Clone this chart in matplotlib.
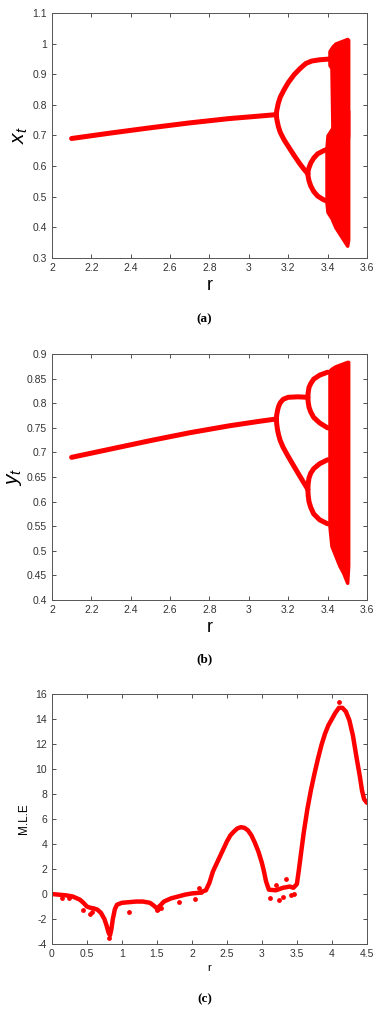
import matplotlib
matplotlib.use('Agg')
import matplotlib.pyplot as plt
import numpy as np
from matplotlib.ticker import FormatStrFormatter

plt.rcParams['font.family'] = ['Liberation Sans', 'DejaVu Sans']
plt.rcParams['mathtext.fontset'] = 'custom'
plt.rcParams['mathtext.it'] = 'Liberation Sans:italic'
plt.rcParams['mathtext.rm'] = 'Liberation Sans'

RED = '#ff0000'

# ---- panel (a): x_t bifurcation ----
a_main_r = [2.10, 2.30, 2.50, 2.70, 2.90, 3.05, 3.14]
a_main_x = [0.690, 0.708, 0.725, 0.741, 0.755, 0.763, 0.768]
a_up2_r = [3.14, 3.142, 3.145, 3.15, 3.16, 3.18, 3.20, 3.23, 3.26, 3.29, 3.32, 3.36, 3.42]
a_up2_x = [0.768, 0.780, 0.790, 0.805, 0.825, 0.850, 0.872, 0.898, 0.918, 0.935, 0.943, 0.947, 0.950]
a_lo2_r = [3.14, 3.142, 3.145, 3.15, 3.16, 3.18, 3.20, 3.23, 3.26, 3.28, 3.30]
a_lo2_x = [0.768, 0.755, 0.745, 0.730, 0.710, 0.685, 0.665, 0.635, 0.607, 0.590, 0.575]
a_p4_r = [3.30, 3.302, 3.306, 3.315, 3.33, 3.35, 3.38, 3.40]
a_up4_x = [0.575, 0.585, 0.595, 0.610, 0.626, 0.640, 0.650, 0.655]
a_lo4_x = [0.575, 0.565, 0.552, 0.535, 0.517, 0.502, 0.490, 0.485]
# chaotic band envelopes
a_ch_up_r = [3.41, 3.42, 3.425, 3.44, 3.46, 3.48, 3.50, 3.505]
a_ch_up_hi = [0.975, 0.985, 0.990, 1.000, 1.005, 1.010, 1.015, 1.012]
a_ch_up_lo = [0.930, 0.920, 0.720, 0.700, 0.690, 0.680, 0.670, 0.700]
a_ch_lo_r = [3.395, 3.40, 3.42, 3.44, 3.46, 3.48, 3.50, 3.505]
a_ch_lo_hi = [0.660, 0.700, 0.720, 0.740, 0.750, 0.760, 0.780, 0.780]
a_ch_lo_lo = [0.480, 0.450, 0.430, 0.400, 0.380, 0.360, 0.340, 0.360]

# ---- panel (b): y_t bifurcation ----
b_main_r = [2.10, 2.30, 2.50, 2.70, 2.90, 3.05, 3.14]
b_main_y = [0.690, 0.707, 0.724, 0.740, 0.754, 0.763, 0.768]
b_p2_r = [3.14, 3.142, 3.146, 3.152, 3.16, 3.175, 3.20, 3.25, 3.30]
b_up2_y = [0.768, 0.776, 0.785, 0.794, 0.801, 0.808, 0.812, 0.813, 0.812]
b_lo2_y = [0.768, 0.758, 0.746, 0.735, 0.724, 0.710, 0.692, 0.658, 0.625]
b_p4_r = [3.30, 3.302, 3.306, 3.315, 3.33, 3.36, 3.40]
b_p4a_y = [0.812, 0.822, 0.832, 0.840, 0.849, 0.857, 0.863]
b_p4b_y = [0.812, 0.802, 0.792, 0.782, 0.771, 0.760, 0.750]
b_p4c_y = [0.625, 0.637, 0.648, 0.658, 0.667, 0.677, 0.685]
b_p4d_y = [0.625, 0.612, 0.600, 0.588, 0.575, 0.563, 0.555]
b_ch_r = [3.41, 3.42, 3.44, 3.46, 3.48, 3.50, 3.505]
b_ch_hi = [0.866, 0.870, 0.875, 0.878, 0.881, 0.884, 0.884]
b_ch_lo = [0.550, 0.510, 0.490, 0.470, 0.455, 0.435, 0.470]

# ---- panel (c): maximal Lyapunov exponent ----
c_r = [0.00, 0.10, 0.20, 0.30, 0.40, 0.45, 0.50, 0.55, 0.60, 0.65, 0.70, 0.75,
       0.78, 0.81, 0.83, 0.85, 0.87, 0.90, 0.93, 1.00, 1.10, 1.20, 1.30, 1.40,
       1.45, 1.50, 1.55, 1.60, 1.70, 1.80, 1.90, 2.00, 2.10, 2.20, 2.25, 2.30,
       2.35, 2.40, 2.45, 2.50, 2.55, 2.60, 2.65, 2.70, 2.75, 2.80, 2.85, 2.90,
       2.95, 3.00, 3.03, 3.06, 3.10, 3.20, 3.30, 3.40, 3.45, 3.50, 3.53, 3.56,
       3.60, 3.65, 3.70, 3.75, 3.80, 3.85, 3.90, 3.95, 4.00, 4.05, 4.10, 4.15,
       4.20, 4.25, 4.30, 4.35, 4.40, 4.43, 4.46, 4.50]
c_mle = [0.00, -0.05, -0.10, -0.20, -0.45, -0.70, -1.00, -1.10, -1.15, -1.25,
         -1.50, -2.00, -2.50, -3.10, -3.30, -2.80, -2.00, -1.20, -0.85, -0.70,
         -0.65, -0.60, -0.60, -0.70, -0.90, -1.15, -0.90, -0.60, -0.35, -0.20,
         -0.05, 0.05, 0.10, 0.30, 0.90, 1.80, 2.40, 3.00, 3.60, 4.20, 4.70,
         5.00, 5.25, 5.35, 5.30, 5.10, 4.70, 4.10, 3.40, 2.50, 1.80, 1.00,
         0.35, 0.30, 0.50, 0.60, 0.50, 0.80, 2.00, 3.30, 5.00, 6.80, 8.30,
         9.60, 10.80, 11.90, 12.80, 13.50, 14.00, 14.50, 14.90, 14.90, 14.60,
         13.90, 12.70, 11.00, 9.40, 8.30, 7.60, 7.30]
c_spike_r = [0.15, 0.25, 0.45, 0.55, 0.57, 0.82, 1.10, 1.50, 1.52, 1.56, 1.82,
             2.05, 2.10, 2.13, 3.12, 3.20, 3.25, 3.30, 3.35, 3.42, 3.46, 4.10]
c_spike_v = [-0.30, -0.30, -1.30, -1.60, -1.40, -3.50, -1.40, -1.30, -1.20,
             -1.10, -0.60, -0.40, 0.50, 0.20, -0.30, 0.70, -0.50, -0.20, 1.20,
             -0.10, 0.00, 15.40]


def style_axes(ax):
    ax.tick_params(direction='in', top=True, right=True, length=3, width=0.6,
                   labelsize=7.5, colors='#333333')
    for s in ax.spines.values():
        s.set_linewidth(0.7)
        s.set_color('#555555')


fig = plt.figure(figsize=(3.79, 10.10), dpi=100)
lw = 3.6

# (a)
ax1 = fig.add_axes([0.137, 0.7446, 0.831, 0.2426])
for r, v in [(a_main_r, a_main_x), (a_up2_r, a_up2_x), (a_lo2_r, a_lo2_x),
             (a_p4_r, a_up4_x), (a_p4_r, a_lo4_x)]:
    ax1.plot(r, v, color=RED, lw=lw, solid_capstyle='round')
ax1.fill_between(a_ch_up_r, a_ch_up_lo, a_ch_up_hi, color=RED, lw=2.5, ec=RED)
ax1.fill_between(a_ch_lo_r, a_ch_lo_lo, a_ch_lo_hi, color=RED, lw=2.5, ec=RED)
ax1.set_xlim(2, 3.6)
ax1.set_ylim(0.3, 1.1)
ax1.set_xticks(np.arange(2, 3.61, 0.2))
ax1.set_yticks(np.arange(0.3, 1.11, 0.1))
ax1.xaxis.set_major_formatter(FormatStrFormatter('%g'))
ax1.yaxis.set_major_formatter(FormatStrFormatter('%g'))
ax1.set_xlabel('r', fontsize=13, labelpad=3)
ax1.set_ylabel('$x_t$', fontsize=15, labelpad=2)
style_axes(ax1)

# (b)
ax2 = fig.add_axes([0.137, 0.4059, 0.831, 0.2436])
for r, v in [(b_main_r, b_main_y), (b_p2_r, b_up2_y), (b_p2_r, b_lo2_y),
             (b_p4_r, b_p4a_y), (b_p4_r, b_p4b_y), (b_p4_r, b_p4c_y),
             (b_p4_r, b_p4d_y)]:
    ax2.plot(r, v, color=RED, lw=lw, solid_capstyle='round')
ax2.fill_between(b_ch_r, b_ch_lo, b_ch_hi, color=RED, lw=2.5, ec=RED)
ax2.set_xlim(2, 3.6)
ax2.set_ylim(0.4, 0.9)
ax2.set_xticks(np.arange(2, 3.61, 0.2))
ax2.set_yticks(np.arange(0.4, 0.91, 0.05))
ax2.xaxis.set_major_formatter(FormatStrFormatter('%g'))
ax2.yaxis.set_major_formatter(FormatStrFormatter('%g'))
ax2.set_xlabel('r', fontsize=13, labelpad=3)
ax2.set_ylabel('$y_t$', fontsize=15, labelpad=2)
style_axes(ax2)

# (c)
ax3 = fig.add_axes([0.137, 0.0653, 0.831, 0.2475])
ax3.plot(c_r, c_mle, color=RED, lw=3.2, solid_capstyle='round',
         solid_joinstyle='round')
ax3.scatter(c_spike_r, c_spike_v, s=6, color=RED, zorder=3)
ax3.set_xlim(0, 4.5)
ax3.set_ylim(-4, 16)
ax3.set_xticks(np.arange(0, 4.51, 0.5))
ax3.set_yticks(np.arange(-4, 16.1, 2))
ax3.xaxis.set_major_formatter(FormatStrFormatter('%g'))
ax3.yaxis.set_major_formatter(FormatStrFormatter('%g'))
ax3.set_xlabel('r', fontsize=8, labelpad=3)
ax3.set_ylabel('M.L.E', fontsize=8.5, labelpad=4)
style_axes(ax3)

for y, lab in [(0.684, '(a)'), (0.3475, '(b)'), (0.011, '(c)')]:
    fig.text(0.54, y, lab, ha='center', va='center', fontsize=9.5,
             fontweight='bold', family=['Liberation Serif', 'DejaVu Serif'])

fig.savefig('out.png', dpi=100)
